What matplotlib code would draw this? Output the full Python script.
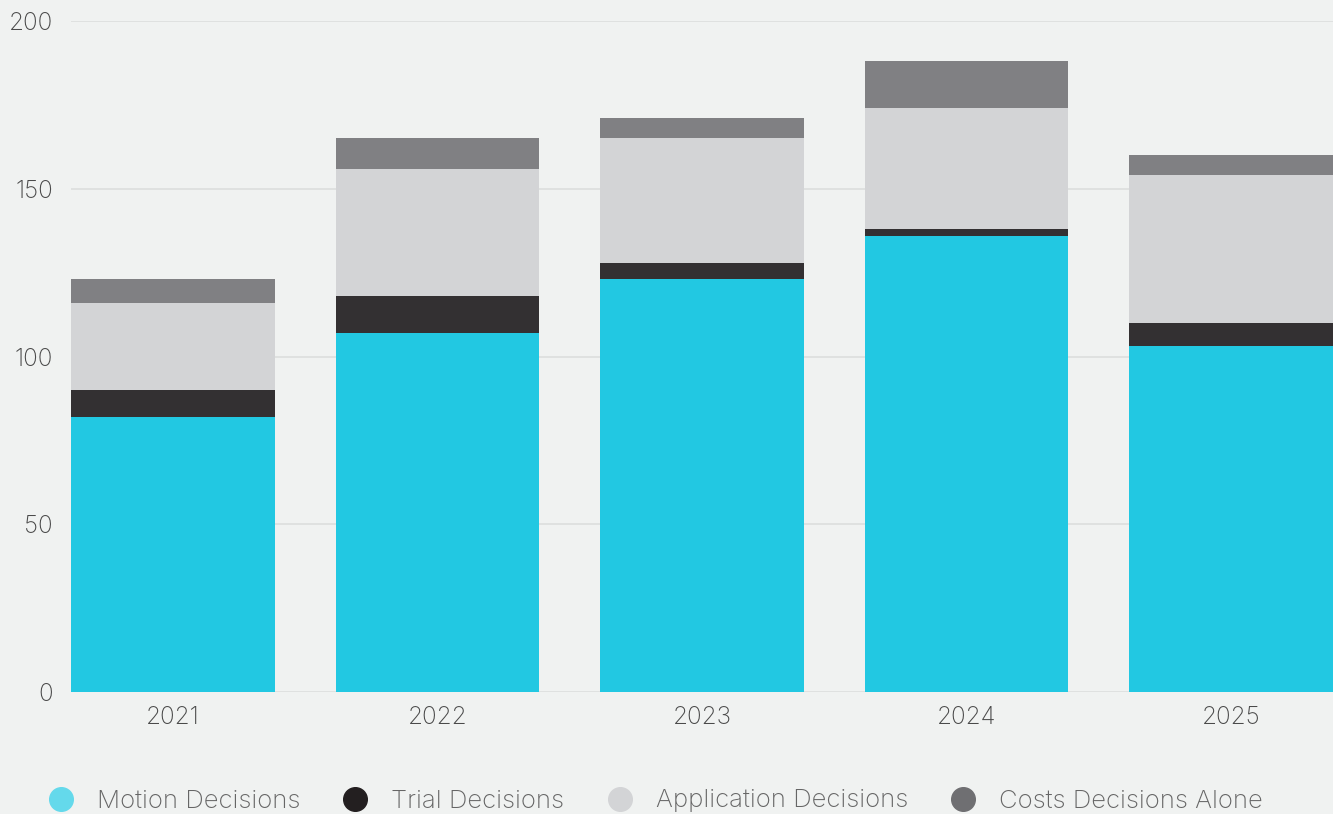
import matplotlib.pyplot as plt
from matplotlib.lines import Line2D
import numpy as np

plt.rcParams['font.family'] = ['Inter', 'DejaVu Sans']

# Datos
years = ['2021', '2022', '2023', '2024', '2025']
motion = [82, 107, 123, 136, 103]
trial = [8, 11, 5, 2, 7]
application = [26, 38, 37, 36, 44]
costs = [7, 9, 6, 14, 6]

labels = ['Motion Decisions', 'Trial Decisions', 'Application Decisions', 'Costs Decisions Alone']
colors = ['#22c8e2', '#333032', '#d3d4d6', '#808083']
legend_colors = ['#64d9eb', '#231f20', '#d3d4d6', '#6f6f72']

bg = '#f0f2f1'
fig = plt.figure(figsize=(13.33, 8.14), dpi=100, facecolor=bg)
ax = fig.add_axes([71 / 1333, 1 - 692 / 814, 1 - 71 / 1333, (692 - 21) / 814])
ax.set_facecolor(bg)

x = np.arange(len(years))
width = 0.771
bottom = np.zeros(len(years))
for vals, c in zip([motion, trial, application, costs], colors):
    ax.bar(x, vals, width, bottom=bottom, color=c, zorder=3)
    bottom += np.array(vals)

ax.set_xlim(-width / 2, len(years) - 1 + width / 2)
ax.set_ylim(0, 200)
ax.set_yticks([0, 50, 100, 150, 200])
ax.set_xticks(x)
ax.set_xticklabels(years)
ax.grid(axis='y', color='#dcdedd', linewidth=1.2, zorder=0)
for s in ax.spines.values():
    s.set_visible(False)
ax.tick_params(axis='both', length=0, labelsize=17.5, labelcolor='#4a4a4a')
ax.tick_params(axis='y', pad=13)
ax.tick_params(axis='x', pad=10)
for t in ax.get_xticklabels() + ax.get_yticklabels():
    t.set_fontweight('light')

# Leyenda
handles = [Line2D([], [], marker='o', linestyle='', markersize=17, color=c) for c in legend_colors]
leg = fig.legend(handles, labels, loc='center left', bbox_to_anchor=(0.0263, 1 - 801 / 814), ncol=4,
                 frameon=False, fontsize=18.5, columnspacing=1.15, handletextpad=0.4,
                 handlelength=2.0, borderpad=0, borderaxespad=0, labelcolor='#666666')
for t in leg.get_texts():
    t.set_fontweight('light')

fig.savefig('out.png', dpi=100, facecolor=bg)
